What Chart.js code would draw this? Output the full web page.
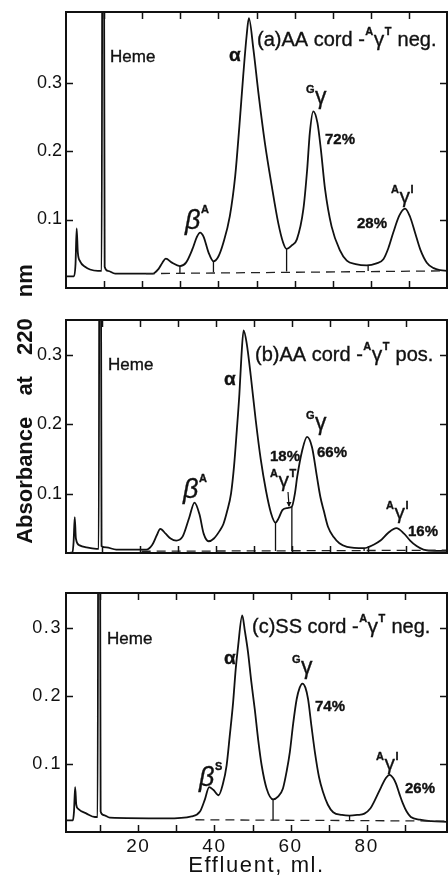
<!DOCTYPE html>
<html>
<head>
<meta charset="utf-8">
<script src="https://cdn.jsdelivr.net/npm/chart.js@4"></script>
<style>
  body { margin: 0; background: #fff; }
  #page { position: relative; width: 448px; height: 879px; overflow: hidden; background: #fff; }
  canvas { position: absolute; left: 0; }
  #ylab {
    position: absolute; left: -125px; top: 391px; width: 300px; height: 26px;
    line-height: 26px; text-align: center; white-space: nowrap;
    font: bold 22px "Liberation Sans", Arial, sans-serif; word-spacing: 15px; color: #111;
    transform: rotate(-90deg);
  }
</style>
</head>
<body>
<div id="page">
  <canvas id="panelA" width="448" height="292" style="top:0px"></canvas>
  <canvas id="panelB" width="448" height="256" style="top:300px"></canvas>
  <canvas id="panelC" width="448" height="299" style="top:580px"></canvas>
  <div id="ylab">Absorbance at 220 nm</div>
</div>
<script>
// ---- data (effluent in ml, absorbance at 220 nm) ----
const effluentA = [0, 2.1, 2.5, 2.8, 3.1, 3.7, 5.0, 6.3, 8.4, 9.35, 9.6, 9.9, 10.15, 11.0, 12.9, 22.8, 24.3, 25.3, 26.2, 27.8, 29.9, 31.5, 33.2, 34.3, 35.2, 36.1, 37.4, 38.7, 40.0, 41.3, 43.0, 44.4, 45.5, 46.5, 47.4, 48.0, 49.2, 50.5, 52.2, 54.0, 55.7, 57.0, 57.9, 59.2, 60.6, 62.3, 63.3, 64.0, 64.9, 66.0, 66.9, 68.0, 69.7, 71.9, 73.7, 76.0, 78.9, 81.5, 83.3, 84.6, 85.9, 87.5, 89.0, 90.3, 91.6, 93.0, 94.7, 96.5, 98.2, 100];
const absA = [0.017, 0.017, 0.035, 0.087, 0.052, 0.039, 0.031, 0.027, 0.025, 0.025, 0.7, 0.7, 0.031, 0.025, 0.021, 0.021, 0.028, 0.037, 0.043, 0.037, 0.032, 0.037, 0.057, 0.074, 0.081, 0.075, 0.052, 0.039, 0.046, 0.066, 0.105, 0.163, 0.236, 0.309, 0.368, 0.394, 0.348, 0.285, 0.212, 0.149, 0.095, 0.066, 0.057, 0.062, 0.071, 0.115, 0.173, 0.227, 0.258, 0.241, 0.202, 0.144, 0.090, 0.055, 0.040, 0.035, 0.033, 0.036, 0.042, 0.058, 0.081, 0.106, 0.116, 0.104, 0.081, 0.056, 0.037, 0.029, 0.026, 0.025];

const effluentB = [0.6, 2.3, 2.6, 2.9, 3.2, 4.2, 6.0, 8.6, 9.2, 9.45, 9.7, 9.95, 11.2, 13.8, 21.7, 23.3, 24.5, 25.4, 26.8, 28.1, 29.6, 31.3, 33.0, 34.4, 35.7, 36.8, 38.1, 39.5, 41.0, 42.0, 43.0, 44.0, 44.8, 45.5, 46.2, 46.7, 47.3, 48.1, 49.2, 50.5, 51.8, 53.2, 54.5, 55.7, 56.5, 57.5, 58.8, 60.0, 60.8, 61.4, 62.7, 64.0, 65.3, 66.6, 67.5, 68.4, 69.5, 71.0, 72.5, 74.5, 79.0, 81.5, 83.3, 85.3, 87.5, 89.5, 91.1, 92.8, 94.6, 97.5, 100.8];
const absB = [0.014, 0.015, 0.03, 0.066, 0.035, 0.025, 0.022, 0.020, 0.020, 0.7, 0.7, 0.024, 0.022, 0.019, 0.019, 0.026, 0.04, 0.049, 0.042, 0.035, 0.032, 0.038, 0.065, 0.087, 0.07, 0.042, 0.031, 0.035, 0.046, 0.056, 0.075, 0.10, 0.14, 0.19, 0.244, 0.295, 0.336, 0.318, 0.27, 0.206, 0.15, 0.104, 0.072, 0.058, 0.064, 0.076, 0.079, 0.081, 0.10, 0.124, 0.162, 0.182, 0.167, 0.124, 0.095, 0.075, 0.052, 0.037, 0.028, 0.023, 0.021, 0.026, 0.032, 0.043, 0.050, 0.042, 0.032, 0.024, 0.019, 0.017, 0.017];

const effluentC = [1.0, 2.8, 3.1, 3.4, 3.7, 4.2, 6.4, 8.6, 9.3, 9.55, 9.85, 10.1, 10.8, 12.5, 27.4, 34.0, 36.2, 37.5, 38.6, 39.7, 41.1, 42.2, 43.2, 44.0, 44.9, 45.6, 46.2, 47.3, 48.0, 48.8, 49.7, 50.6, 51.5, 52.4, 53.7, 55.4, 56.7, 58.0, 59.0, 59.8, 60.7, 61.6, 62.4, 63.1, 63.9, 64.6, 65.5, 66.4, 67.5, 68.5, 69.8, 71.2, 73.5, 75.5, 77.5, 79.4, 81.0, 82.0, 83.8, 85.0, 86.0, 87.0, 87.7, 88.6, 89.5, 90.5, 91.6, 94.0, 97.0, 101.1];
const absC = [0.017, 0.017, 0.03, 0.066, 0.04, 0.034, 0.027, 0.022, 0.022, 0.7, 0.7, 0.03, 0.025, 0.021, 0.020, 0.023, 0.03, 0.048, 0.066, 0.062, 0.054, 0.07, 0.098, 0.14, 0.19, 0.24, 0.272, 0.318, 0.295, 0.265, 0.22, 0.18, 0.135, 0.098, 0.064, 0.048, 0.052, 0.064, 0.09, 0.117, 0.16, 0.195, 0.212, 0.218, 0.212, 0.195, 0.155, 0.117, 0.08, 0.059, 0.04, 0.029, 0.025, 0.024, 0.025, 0.027, 0.035, 0.045, 0.066, 0.079, 0.084, 0.079, 0.071, 0.056, 0.042, 0.03, 0.022, 0.018, 0.016, 0.015];

// dashed baselines (start / end)
const baseXA = [21, 100], baseYA = [0.021, 0.025];
const baseXB = [20.5, 100.8], baseYB = [0.0165, 0.018];
const baseXC = [35, 101.1], baseYC = [0.018, 0.016];

// vertical cut lines between peaks
const dropXA = [29.9, 38.7, 57.9, 79.3], dropTopA = [0.032, 0.039, 0.057, 0.033], dropBotA = [0.022, 0.023, 0.024, 0.025];
const dropXB = [55.7, 60.0, 79.0], dropTopB = [0.058, 0.081, 0.021], dropBotB = [0.017, 0.017, 0.017];
const dropXC = [55.4, 75.5], dropTopC = [0.048, 0.024], dropBotC = [0.017, 0.017];

// axis ticks
const xTickMarks = [10, 20, 30, 40, 50, 60, 70, 80, 90];
const xTickLabels = [20, 40, 60, 80];
const yTickMarks = [0.1, 0.2, 0.3];

// ---- fonts ----
const FF = '"Liberation Sans", Arial, sans-serif';
const fHeme = '17px ' + FF;
const fTitle = '20px ' + FF;
const fSup = 'bold 11px ' + FF;
const fGam = '21px ' + FF;
const fGamBig = '23px ' + FF;
const fPct = 'bold 15px ' + FF;
const fAlpha = 'bold 19px ' + FF;
const fBeta = 'italic 27px ' + FF;

function titleParts(head, tail) {
  return [[head, fTitle], ['A', fSup, -8], ['γ', fGam], ['T', fSup, -8], [tail, fTitle]];
}

// annotation text, page coordinates (left x, middle y)
const labelsA = [
  { x: 110, y: 57, parts: [['Heme', fHeme]] },
  { x: 229, y: 56, parts: [['α', fAlpha]] },
  { x: 257, y: 40, parts: titleParts('(a)AA cord -', ' neg.') },
  { x: 306, y: 98, parts: [['G', fSup, -8], ['γ', fGamBig]] },
  { x: 325, y: 140, parts: [['72%', fPct]] },
  { x: 185, y: 221, parts: [['β', fBeta], ['A', fSup, -11]] },
  { x: 391, y: 197, parts: [['A', fSup, -7], ['γ', fGam], ['I', fSup, -7]] },
  { x: 357, y: 224, parts: [['28%', fPct]] }
];
const labelsB = [
  { x: 108, y: 365, parts: [['Heme', fHeme]] },
  { x: 224, y: 380, parts: [['α', fAlpha]] },
  { x: 255, y: 355, parts: titleParts('(b)AA cord -', ' pos.') },
  { x: 306, y: 424, parts: [['G', fSup, -8], ['γ', fGamBig]] },
  { x: 317, y: 453, parts: [['66%', fPct]] },
  { x: 270, y: 457, parts: [['18%', fPct]] },
  { x: 270, y: 481, parts: [['A', fSup, -7], ['γ', fGam], ['T', fSup, -7]] },
  { x: 183, y: 490, parts: [['β', fBeta], ['A', fSup, -11]] },
  { x: 386, y: 513, parts: [['A', fSup, -7], ['γ', fGam], ['I', fSup, -7]] },
  { x: 408, y: 532, parts: [['16%', fPct]] }
];
const labelsC = [
  { x: 107, y: 639, parts: [['Heme', fHeme]] },
  { x: 224, y: 659, parts: [['α', fAlpha]] },
  { x: 252, y: 627, parts: titleParts('(c)SS cord -', ' neg.') },
  { x: 292, y: 668, parts: [['G', fSup, -8], ['γ', fGamBig]] },
  { x: 315, y: 707, parts: [['74%', fPct]] },
  { x: 199, y: 778, parts: [['β', fBeta], ['S', fSup, -11]] },
  { x: 376, y: 764, parts: [['A', fSup, -7], ['γ', fGam], ['I', fSup, -7]] },
  { x: 405, y: 789, parts: [['26%', fPct]] }
];

// frame with inward ticks + annotations
const framePlugin = {
  id: 'frame',
  beforeDraw(chart, args, opts) {
    // the figure's lettering is widely spaced
    chart.ctx.letterSpacing = opts.spacing || '0px';
  },
  afterDraw(chart, args, opts) {
    const ctx = chart.ctx;
    const { left, top, right, bottom } = chart.chartArea;
    const xs = chart.scales.x, ys = chart.scales.y;
    ctx.save();
    ctx.letterSpacing = '0px';
    ctx.strokeStyle = '#111';
    ctx.lineWidth = 2;
    ctx.strokeRect(left, top, right - left, bottom - top);
    ctx.lineWidth = 1.5;
    ctx.beginPath();
    xTickMarks.forEach(v => {
      const px = Math.round(xs.getPixelForValue(v)) + 0.5;
      ctx.moveTo(px, top); ctx.lineTo(px, top + 7);
      ctx.moveTo(px, bottom); ctx.lineTo(px, bottom - 7);
    });
    yTickMarks.forEach(v => {
      const py = Math.round(ys.getPixelForValue(v)) + 0.5;
      ctx.moveTo(left, py); ctx.lineTo(left + 7, py);
      ctx.moveTo(right, py); ctx.lineTo(right - 7, py);
    });
    ctx.stroke();

    // labels
    const off = opts.offset;
    ctx.fillStyle = '#111';
    ctx.lineWidth = 0.35;
    ctx.textBaseline = 'middle';
    ctx.textAlign = 'left';
    opts.labels.forEach(l => {
      let cx = l.x;
      l.parts.forEach(p => {
        ctx.font = p[1];
        const ty = l.y - off + (p[2] || 0);
        ctx.fillText(p[0], cx, ty);
        ctx.strokeText(p[0], cx, ty);
        cx += ctx.measureText(p[0]).width + 0.5;
      });
    });
    if (opts.arrow) {
      const a = opts.arrow;
      ctx.lineWidth = 1.2;
      ctx.beginPath();
      ctx.moveTo(a[0], a[1] - off); ctx.lineTo(a[2], a[3] - off);
      ctx.stroke();
      ctx.beginPath();
      ctx.moveTo(a[2], a[3] - off + 1);
      ctx.lineTo(a[2] - 2.5, a[3] - off - 4);
      ctx.lineTo(a[2] + 2.5, a[3] - off - 4);
      ctx.closePath();
      ctx.fill();
    }
    ctx.restore();
  }
};

function pts(xs, ys) {
  return xs.map((x, i) => ({ x: x, y: ys[i] }));
}

function makePanel(id, cfg) {
  const datasets = [];
  datasets.push({
    data: pts(cfg.baseX, cfg.baseY),
    borderColor: '#222', borderWidth: 1.3, borderDash: [9, 6], pointRadius: 0
  });
  cfg.dropX.forEach((x, i) => {
    datasets.push({
      data: [{ x: x, y: cfg.dropTop[i] }, { x: x, y: cfg.dropBot[i] }],
      borderColor: '#111', borderWidth: 1.3, pointRadius: 0
    });
  });
  datasets.push({
    data: pts(cfg.xs, cfg.ys),
    borderColor: '#111', borderWidth: 1.8, pointRadius: 0,
    cubicInterpolationMode: 'monotone'
  });

  return new Chart(document.getElementById(id), {
    type: 'line',
    data: { datasets: datasets },
    options: {
      responsive: false,
      animation: false,
      layout: { padding: { top: cfg.padTop, right: 1, left: 0, bottom: 0 } },
      plugins: {
        legend: { display: false },
        tooltip: { enabled: false },
        frame: { labels: cfg.labels, offset: cfg.offset, arrow: cfg.arrow, spacing: cfg.spacing }
      },
      scales: {
        x: {
          type: 'linear', min: cfg.xMin, max: cfg.xMax,
          grid: { display: false, drawTicks: false },
          border: { display: false },
          ticks: {
            display: cfg.showX, color: '#111', padding: 3,
            font: { family: FF, size: 19 }, maxRotation: 0, autoSkip: false
          },
          title: {
            display: cfg.showX, text: 'Effluent, ml.', color: '#111',
            font: { family: FF, size: 22 }, padding: { top: 0, bottom: 0 }
          },
          afterBuildTicks: s => { s.ticks = xTickLabels.map(v => ({ value: v })); },
          afterFit: s => { s.height = cfg.xHeight; s.paddingLeft = 0; s.paddingRight = 0; }
        },
        y: {
          min: cfg.yMin, max: cfg.yMax,
          grid: { display: false, drawTicks: false },
          border: { display: false },
          ticks: {
            color: '#111', padding: 4,
            font: { family: FF, size: 18 },
            callback: v => v.toFixed(1)
          },
          afterBuildTicks: s => { s.ticks = yTickMarks.map(v => ({ value: v })); },
          afterFit: s => { s.width = 66; s.paddingTop = 0; s.paddingBottom = 0; }
        }
      }
    },
    plugins: [framePlugin]
  });
}

makePanel('panelA', {
  xs: effluentA, ys: absA, baseX: baseXA, baseY: baseYA,
  dropX: dropXA, dropTop: dropTopA, dropBot: dropBotA,
  xMin: 0, xMax: 100, yMin: 0, yMax: 0.403, padTop: 12, xHeight: 4, showX: false,
  labels: labelsA, offset: 0
});
makePanel('panelB', {
  xs: effluentB, ys: absB, baseX: baseXB, baseY: baseYB,
  dropX: dropXB, dropTop: dropTopB, dropBot: dropBotB,
  xMin: 0.6, xMax: 100.8, yMin: 0.014, yMax: 0.351, padTop: 20, xHeight: 3, showX: false,
  labels: labelsB, offset: 300, arrow: [288, 492, 289, 506]
});
makePanel('panelC', {
  xs: effluentC, ys: absC, baseX: baseXC, baseY: baseYC,
  dropX: dropXC, dropTop: dropTopC, dropBot: dropBotC,
  xMin: 1.0, xMax: 101.1, yMin: 0, yMax: 0.351, padTop: 13, xHeight: 47, showX: true,
  labels: labelsC, offset: 580, spacing: '1.6px'
});
</script>
</body>
</html>
